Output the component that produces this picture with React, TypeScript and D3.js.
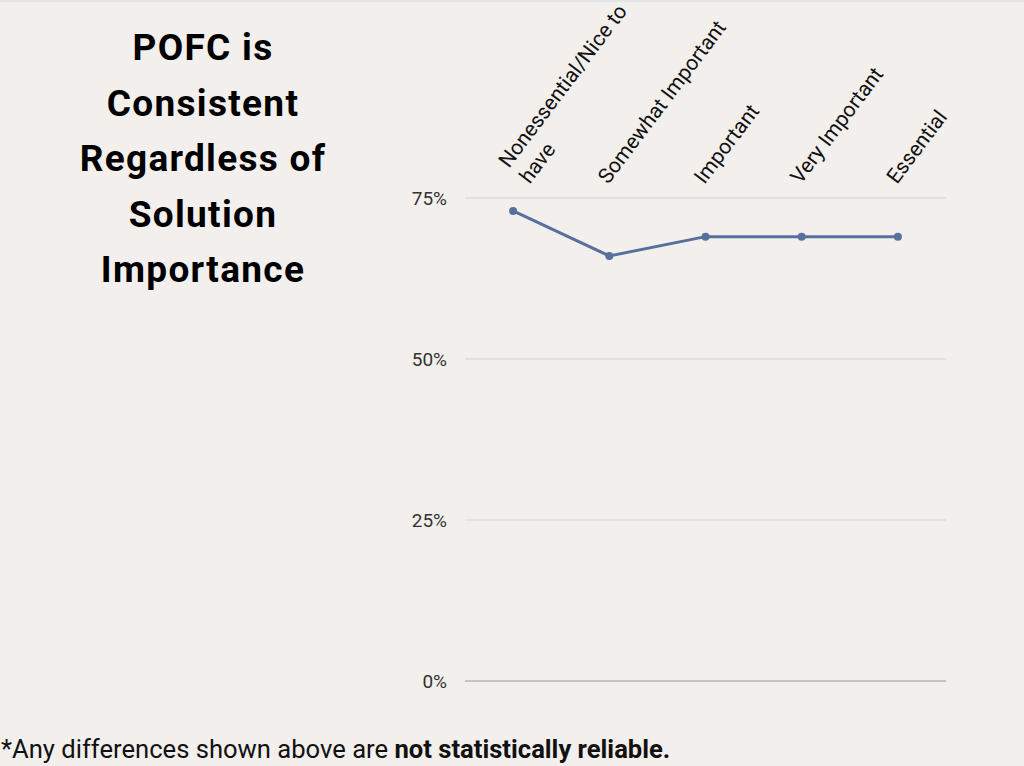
import React from "react";
import * as d3 from "d3";

const categories: string[][] = [
  ["Nonessential/Nice to", "have"],
  ["Somewhat Important"],
  ["Important"],
  ["Very Important"],
  ["Essential"],
];
const values: number[] = [0.73, 0.66, 0.69, 0.69, 0.69];
const yTicks: number[] = [0, 0.25, 0.5, 0.75];
const titleLines: string[] = ["POFC is", "Consistent", "Regardless of", "Solution", "Importance"];
const footNormal = "*Any differences shown above are ";
const footBold = "not statistically reliable.";

const W = 1024;
const H = 766;
const plot = { left: 465, right: 946, top: 198, bottom: 681 };
const LABEL_ANGLE = -53;

export default function App() {
  const x = d3
    .scalePoint<number>()
    .domain(d3.range(categories.length))
    .range([plot.left, plot.right])
    .padding(0.5);
  const y = d3.scaleLinear().domain([0, 0.75]).range([plot.bottom, plot.top]);
  const line = d3
    .line<number>()
    .x((_, i) => x(i) as number)
    .y((d) => y(d));
  const fmt = d3.format(".0%");
  const font = "Roboto, 'Noto Sans', sans-serif";

  return (
    <svg
      width={W}
      height={H}
      style={{ position: "absolute", left: 0, top: 0, display: "block" }}
      fontFamily={font}
    >
      <rect x={0} y={0} width={W} height={H} fill="#f2efec" />
      <rect x={0} y={0} width={W} height={2} fill="#e4e5ea" />

      {/* title */}
      <text
        textAnchor="middle"
        fontWeight="bold"
        fontSize={37}
        fill="#000"
        style={{ letterSpacing: "1.3px" }}
      >
        {titleLines.map((t, i) => (
          <tspan key={i} x={203} y={60 + i * 55.5}>
            {t}
          </tspan>
        ))}
      </text>

      {/* grid */}
      {yTicks.map((t) => (
        <g key={t}>
          <line
            x1={plot.left}
            x2={plot.right}
            y1={y(t)}
            y2={y(t)}
            stroke={t === 0 ? "#9a9a9a" : "#d6d2ce"}
            strokeWidth={t === 0 ? 1.2 : 1}
          />
          <text
            x={447}
            y={y(t)}
            dy="0.35em"
            textAnchor="end"
            fontSize={19}
            fill="#333"
          >
            {fmt(t)}
          </text>
        </g>
      ))}

      {/* category labels */}
      {categories.map((lines, i) => (
        <text
          key={i}
          transform={`translate(${(x(i) as number) - (lines.length > 1 ? 4 : 1)},${185 - (lines.length - 1) * 16}) rotate(${LABEL_ANGLE})`}
          fontSize={21}
          fill="#111"
        >
          {lines.map((l, j) => (
            <tspan key={j} x={0} dy={j === 0 ? 0 : 26}>
              {l}
            </tspan>
          ))}
        </text>
      ))}

      {/* line */}
      <path d={line(values) || ""} fill="none" stroke="#56719e" strokeWidth={3} />
      {values.map((v, i) => (
        <circle key={i} cx={x(i) as number} cy={y(v)} r={4} fill="#56719e" />
      ))}

      {/* footer */}
      <text x={1} y={758} fontSize={25.6} fill="#111">
        <tspan>{footNormal}</tspan>
        <tspan fontWeight="bold">{footBold}</tspan>
      </text>
    </svg>
  );
}
